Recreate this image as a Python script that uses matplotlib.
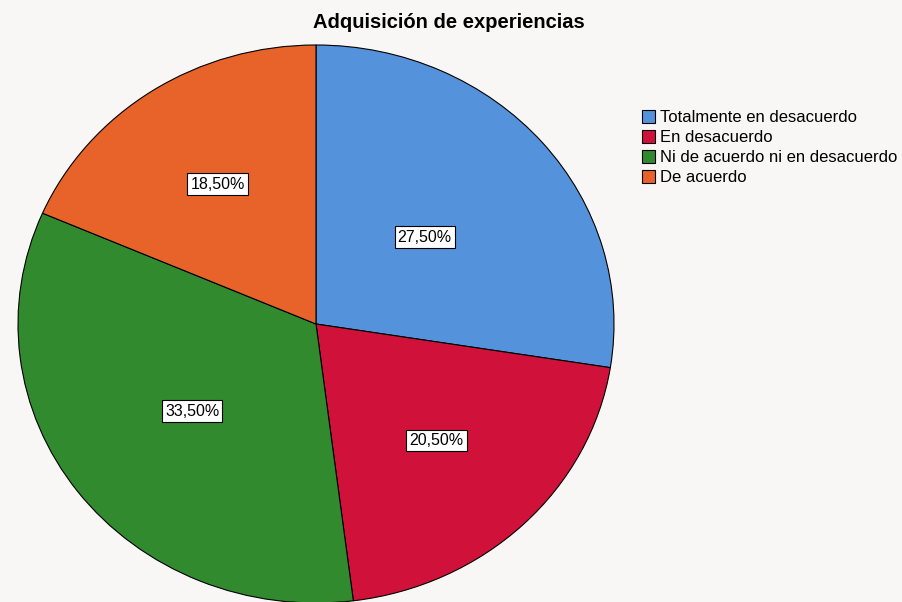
import matplotlib.pyplot as plt
import numpy as np

# datos
categorias = ["Totalmente en desacuerdo", "En desacuerdo",
              "Ni de acuerdo ni en desacuerdo", "De acuerdo"]
porcentajes = [27.5, 20.5, 33.5, 18.5]
colores = ["#5592dc", "#d0123a", "#328a2f", "#e8632a"]

plt.rcParams['font.family'] = ['Liberation Sans', 'DejaVu Sans']

fig = plt.figure(figsize=(9.03, 6.02), dpi=100)
fig.patch.set_facecolor("#f8f7f5")

# el pastel original esta un poco estirado en horizontal
ax = fig.add_axes([18 / 903, -1 / 602, 596 / 903, 558 / 602])
ax.set_facecolor("none")

wedges, _ = ax.pie(porcentajes, colors=colores, startangle=90, counterclock=False,
                   wedgeprops=dict(edgecolor="black", linewidth=0.8))
ax.set_aspect("auto")
ax.set_xlim(-1, 1)
ax.set_ylim(-1, 1)
ax.axis("off")
for w in wedges:
  w.set_clip_on(False)

# etiquetas de porcentaje
dist = [0.48, 0.58, 0.52, 0.6]
for w, v, d in zip(wedges, porcentajes, dist):
  ang = np.deg2rad((w.theta1 + w.theta2) / 2)
  ax.text(d * np.cos(ang), d * np.sin(ang), f"{v:.2f}%".replace(".", ","),
          ha="center", va="center", fontsize=11.5,
          bbox=dict(boxstyle="square,pad=0.2", fc="white", ec="black", lw=0.8))

fig.text(449 / 903, 1 - 22 / 602, "Adquisición de experiencias",
         ha="center", va="center", fontsize=14.5, fontweight="bold")

fig.legend(wedges, categorias, loc="upper left", bbox_to_anchor=(634 / 903, 1 - 102 / 602),
           frameon=False, fontsize=12, handlelength=0.75, handleheight=0.75,
           handletextpad=0.3, labelspacing=0.3, borderpad=0)

fig.savefig("out.png", dpi=100, facecolor=fig.get_facecolor())
